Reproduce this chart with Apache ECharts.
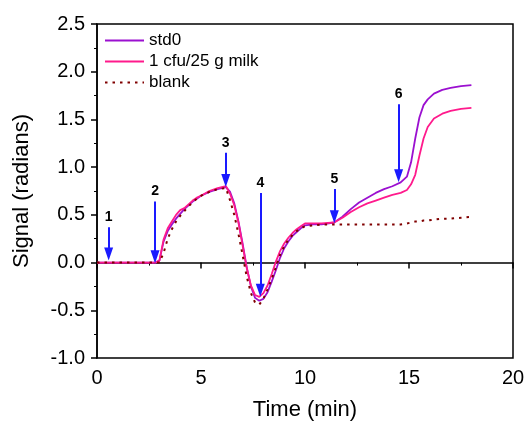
<!DOCTYPE html>
<html>
<head>
<meta charset="utf-8">
<script src="https://cdn.jsdelivr.net/npm/echarts@6/dist/echarts.min.js"></script>
<style>
  html, body { margin: 0; padding: 0; background: #fff; }
  #chart { width: 528px; height: 426px; }
</style>
</head>
<body>
<div id="chart"></div>
<script>
// time (min), shared by all three traces
const time = [0, 1, 2, 2.8, 3.0, 3.2, 3.4, 3.6, 3.8, 4.0, 4.2, 4.4, 4.6, 4.8, 5.0, 5.4, 5.8, 6.2,
  6.4, 6.6, 6.8, 7.0, 7.2, 7.4, 7.6, 7.8, 8.0, 8.2, 8.4, 8.6, 8.8, 9.0, 9.2, 9.4, 9.6, 9.8, 10.0,
  10.4, 10.8, 11.4, 11.8, 12.2, 12.6, 13.0, 13.4, 13.8, 14.2, 14.6, 14.9, 15.1, 15.3, 15.5, 15.7,
  15.9, 16.2, 16.6, 17.0, 17.5, 18.0];

const std0 = [0, 0, 0, 0, 0.02, 0.22, 0.33, 0.40, 0.46, 0.51, 0.56, 0.60, 0.64, 0.67, 0.70, 0.74, 0.77, 0.79,
  0.74, 0.62, 0.43, 0.20, -0.05, -0.25, -0.37, -0.40, -0.38, -0.31, -0.20, -0.08, 0.05, 0.15, 0.22, 0.28, 0.32, 0.36, 0.39,
  0.40, 0.40, 0.42, 0.48, 0.56, 0.63, 0.68, 0.73, 0.77, 0.80, 0.84, 0.90, 1.05, 1.30, 1.52, 1.65,
  1.71, 1.77, 1.81, 1.83, 1.85, 1.86];

const milk = [0, 0, 0, 0, 0.02, 0.24, 0.36, 0.43, 0.50, 0.55, 0.57, 0.61, 0.65, 0.68, 0.70, 0.75, 0.78, 0.80,
  0.72, 0.60, 0.42, 0.18, -0.06, -0.24, -0.34, -0.36, -0.32, -0.24, -0.12, 0.01, 0.12, 0.20, 0.26, 0.31, 0.35, 0.38, 0.41,
  0.41, 0.41, 0.42, 0.47, 0.53, 0.58, 0.62, 0.65, 0.68, 0.71, 0.73, 0.76, 0.82, 0.92, 1.12, 1.30,
  1.42, 1.51, 1.56, 1.59, 1.61, 1.62];

const blank = [0, 0, 0, 0, 0, 0.10, 0.25, 0.35, 0.43, 0.49, 0.54, 0.59, 0.63, 0.67, 0.70, 0.74, 0.77, 0.78,
  0.65, 0.50, 0.30, 0.08, -0.15, -0.32, -0.42, -0.44, -0.38, -0.28, -0.17, -0.05, 0.08, 0.17, 0.24, 0.29, 0.33, 0.36, 0.38,
  0.39, 0.40, 0.40, 0.40, 0.40, 0.40, 0.40, 0.40, 0.40, 0.40, 0.40, 0.41, 0.42, 0.43, 0.43, 0.44,
  0.44, 0.45, 0.46, 0.46, 0.47, 0.48];

// injection arrows
const arrowX = [0.56, 2.79, 6.19, 7.85, 11.41, 14.5];
const arrowTop = [0.37, 0.64, 1.15, 0.73, 0.77, 1.66];
const arrowTip = [0.09, 0.06, 0.86, -0.29, 0.48, 0.91];
const arrowLabels = ['1', '2', '3', '4', '5', '6'];

const seriesNames = ['std0', '1 cfu/25 g milk', 'blank'];

const font = 'Liberation Sans, Arial, sans-serif';
const pair = (ys) => time.map((t, i) => [t, ys[i]]);

const chart = echarts.init(document.getElementById('chart'));

const arrowLines = arrowX.map((x, i) => [
  { coord: [x, arrowTop[i]], symbol: 'none', label: { formatter: arrowLabels[i] } },
  { coord: [x, arrowTip[i]], symbol: 'triangle', symbolSize: [9, 13] }
]);

chart.setOption({
  animation: false,
  grid: {
    left: 97, right: 15, top: 24, bottom: 67,
    show: true, borderColor: '#000', borderWidth: 1.5
  },
  legend: {
    data: seriesNames,
    orient: 'vertical',
    left: 99, top: 27,
    itemWidth: 39, itemHeight: 14, itemGap: 4,
    itemStyle: { opacity: 0 },
    textStyle: { fontFamily: font, fontSize: 17, color: '#000' }
  },
  xAxis: {
    type: 'value',
    min: 0, max: 20, interval: 5,
    name: 'Time (min)',
    nameLocation: 'middle',
    nameGap: 41,
    nameTextStyle: { fontFamily: font, fontSize: 22, color: '#000' },
    axisLine: { lineStyle: { color: '#000', width: 1.5 } },
    axisTick: { inside: false, length: 6, lineStyle: { width: 1.5 } },
    minorTick: { show: true, splitNumber: 2, length: 3, lineStyle: { color: '#000' } },
    axisLabel: { fontFamily: font, fontSize: 20, color: '#000', margin: 10 },
    splitLine: { show: false }
  },
  yAxis: {
    type: 'value',
    min: -1, max: 2.5, interval: 0.5,
    name: 'Signal (radians)',
    nameLocation: 'middle',
    nameGap: 64,
    nameTextStyle: { fontFamily: font, fontSize: 22, color: '#000' },
    axisLine: { lineStyle: { color: '#000', width: 1.5 } },
    axisTick: { inside: false, length: 6, lineStyle: { width: 1.5 } },
    minorTick: { show: true, splitNumber: 2, length: 3, lineStyle: { color: '#000' } },
    axisLabel: {
      fontFamily: font, fontSize: 20, color: '#000', margin: 12,
      formatter: (v) => v.toFixed(1)
    },
    splitLine: { show: false }
  },
  series: [
    {
      name: seriesNames[0], type: 'line', symbol: 'none',
      data: pair(std0),
      lineStyle: { color: '#9B10D0', width: 1.8 }, itemStyle: { color: '#9B10D0' }
    },
    {
      name: seriesNames[1], type: 'line', symbol: 'none',
      data: pair(milk),
      lineStyle: { color: '#FF1A8C', width: 1.8 }, itemStyle: { color: '#FF1A8C' }
    },
    {
      name: seriesNames[2], type: 'line', symbol: 'none',
      data: pair(blank),
      lineStyle: { color: '#800000', width: 2, type: [2.5, 5] }, itemStyle: { color: '#800000' }
    },
    {
      name: 'arrows', type: 'line', data: [],
      markLine: {
        silent: true,
        animation: false,
        lineStyle: { color: '#1A1AFF', width: 2, type: 'solid' },
        label: {
          show: true, position: 'start', distance: 3,
          fontFamily: font, fontSize: 14, fontWeight: 'bold', color: '#000'
        },
        data: arrowLines
      }
    }
  ]
});
</script>
</body>
</html>
